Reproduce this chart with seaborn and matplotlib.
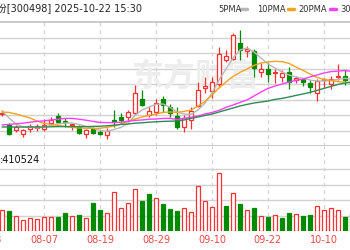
import numpy as np
import pandas as pd
import matplotlib
matplotlib.use("Agg")
import matplotlib.pyplot as plt
import seaborn as sns

# ---------------- data ----------------
dates = ["07-30", "07-31", "08-01", "08-04", "08-05", "08-06", "08-07", "08-08", "08-11", "08-12",
         "08-13", "08-14", "08-15", "08-18", "08-19", "08-20", "08-21", "08-22", "08-25", "08-26",
         "08-27", "08-28", "08-29", "09-01", "09-02", "09-03", "09-04", "09-05", "09-08", "09-09",
         "09-10", "09-11", "09-12", "09-15", "09-16", "09-17", "09-18", "09-19", "09-22", "09-23",
         "09-24", "09-25", "09-26", "09-29", "09-30", "10-09", "10-10", "10-13", "10-14", "10-15",
         "10-16"]
opens = [19.32, 18.75, 18.50, 18.30, 18.55, 18.58, 18.55, 18.85, 19.20, 18.95,
         18.73, 18.65, 18.30, 18.55, 18.40, 18.25, 19.00, 19.15, 19.15, 19.35,
         20.05, 19.25, 19.40, 20.05, 19.65, 19.20, 18.65, 19.00, 19.70, 20.60,
         20.43, 20.80, 22.00, 22.05, 22.85, 22.45, 22.45, 21.40, 21.55, 21.33,
         21.15, 21.40, 20.98, 21.05, 20.85, 20.35, 20.98, 20.80, 21.15, 21.20,
         21.15]
highs = [19.50, 18.85, 18.75, 18.55, 18.80, 18.80, 19.05, 19.15, 19.35, 19.10,
         18.80, 18.75, 18.55, 18.65, 18.50, 18.60, 19.50, 19.35, 19.50, 20.75,
         20.50, 19.70, 20.05, 20.20, 19.80, 19.65, 19.25, 19.65, 20.90, 21.15,
         21.15, 22.65, 22.50, 23.35, 23.50, 22.70, 22.55, 21.85, 21.85, 21.55,
         21.50, 21.65, 21.20, 21.10, 21.00, 21.05, 21.10, 21.20, 21.80, 21.50,
         21.25]
lows = [19.20, 18.25, 18.40, 18.15, 18.40, 18.45, 18.45, 18.70, 18.85, 18.65,
        18.50, 18.30, 18.10, 18.30, 18.25, 18.05, 18.65, 18.80, 18.90, 19.25,
        19.70, 19.15, 19.25, 19.40, 19.15, 18.55, 18.40, 18.55, 19.65, 20.35,
        20.10, 20.70, 21.90, 22.00, 22.00, 22.15, 21.15, 21.15, 20.90, 20.85,
        20.90, 20.55, 20.85, 20.70, 20.35, 19.95, 20.60, 20.55, 21.00, 20.75,
        20.70]
closes = [19.34, 18.30, 18.65, 18.50, 18.70, 18.70, 18.75, 19.00, 18.90, 18.88,
          18.78, 18.35, 18.50, 18.35, 18.30, 18.45, 18.93, 19.00, 19.40, 20.35,
          19.75, 19.45, 19.85, 19.75, 19.35, 18.65, 19.10, 19.45, 20.50, 20.68,
          20.88, 22.30, 22.20, 23.25, 22.50, 22.53, 21.60, 21.55, 21.30, 21.38,
          21.35, 20.90, 21.10, 20.88, 20.65, 20.95, 21.03, 21.03, 21.20, 20.98,
          20.75]
ma5 = [19.45, 19.10, 18.80, 18.65, 18.65, 18.60, 18.65, 18.73, 18.80, 18.85,
       18.85, 18.78, 18.68, 18.58, 18.48, 18.43, 18.53, 18.63, 18.83, 19.23,
       19.50, 19.65, 19.78, 19.80, 19.63, 19.40, 19.30, 19.28, 19.50, 19.85,
       20.35, 21.00, 21.55, 22.10, 22.50, 22.60, 22.40, 22.10, 21.80, 21.60,
       21.40, 21.25, 21.15, 21.08, 21.00, 20.95, 20.95, 20.98, 21.03, 21.08,
       21.05]
ma10 = [19.40, 19.38, 19.30, 19.20, 19.10, 18.95, 18.83, 18.78, 18.73, 18.68,
        18.63, 18.60, 18.59, 18.58, 18.59, 18.63, 18.70, 18.80, 18.93, 19.05,
        19.15, 19.23, 19.30, 19.38, 19.40, 19.38, 19.43, 19.50, 19.70, 19.92,
        20.25, 20.60, 20.90, 21.18, 21.38, 21.55, 21.73, 21.85, 21.90, 21.93,
        21.92, 21.83, 21.65, 21.48, 21.30, 21.13, 21.03, 20.97, 20.92, 20.89,
        20.86]
ma20 = [18.75, 18.78, 18.81, 18.84, 18.89, 18.93, 18.96, 19.00, 19.04, 19.08,
        19.08, 19.04, 18.99, 18.93, 18.88, 18.87, 18.87, 18.89, 18.94, 18.98,
        19.00, 19.04, 19.05, 19.08, 19.08, 19.03, 19.08, 19.14, 19.20, 19.30,
        19.38, 19.48, 19.63, 19.75, 19.88, 20.00, 20.20, 20.40, 20.58, 20.70,
        20.80, 20.90, 20.98, 21.05, 21.15, 21.25, 21.35, 21.42, 21.45, 21.47,
        21.43]
ma30 = [18.65, 18.65, 18.65, 18.65, 18.65, 18.65, 18.65, 18.66, 18.67, 18.67,
        18.67, 18.67, 18.67, 18.68, 18.69, 18.71, 18.74, 18.78, 18.80, 18.84,
        18.86, 18.89, 18.91, 18.93, 18.94, 18.95, 19.00, 19.08, 19.15, 19.23,
        19.30, 19.40, 19.50, 19.60, 19.70, 19.78, 19.85, 19.90, 19.95, 20.03,
        20.08, 20.15, 20.23, 20.30, 20.38, 20.48, 20.58, 20.68, 20.78, 20.85,
        20.90]
volumes = [420000, 406000, 300000, 220000, 254000, 240000, 274000, 274000, 286000, 354000,
           300000, 314000, 254000, 566000, 420000, 366000, 786000, 454000, 566000, 834000,
           606000, 734000, 666000, 534000, 440000, 400000, 466000, 374000, 906000, 600000,
           486000, 1154000, 506000, 754000, 546000, 414000, 454000, 306000, 274000, 326000,
           254000, 360000, 346000, 306000, 326000, 506000, 414000, 454000, 414000, 274000,
           354000]
vol_up = [1, 0, 1, 1, 1, 1, 1, 1, 0, 0,
          1, 0, 1, 0, 0, 1, 1, 1, 1, 1,
          0, 0, 1, 0, 0, 0, 1, 1, 1, 1,
          1, 1, 0, 1, 0, 1, 0, 1, 0, 1,
          0, 0, 1, 0, 0, 1, 1, 1, 1, 0,
          0]
tick_labels = ["08-07", "08-19", "08-29", "09-10", "09-22", "10-10"]
clipped_label = "07-28"   # two trading days before the first visible day
title_text = "份[300498] 2025-10-22 15:30"
volume_text = ":410524"
ma_names = ["5PMA", "10PMA", "20PMA", "30PMA"]
watermark = "东方财富"

# ---------------- style ----------------
sns.set_theme(style="white")
plt.rcParams['font.family'] = ['DejaVu Sans', 'Noto Sans CJK SC']

RED = "#ff3030"
GREEN = "#008a00"
GRID = "#d2d2d2"
ma_colors = ["#b8b8b8", "#f5a31e", "#ff3cff", "#2e8b57"]

df = pd.DataFrame({"i": np.arange(len(dates)), "date": dates, "open": opens, "high": highs,
                   "low": lows, "close": closes, "ma5": ma5, "ma10": ma10, "ma20": ma20,
                   "ma30": ma30, "vol": volumes, "up": vol_up})

W, H = 350, 250
fig = plt.figure(figsize=(3.5, 2.5), dpi=100)
fig.patch.set_facecolor("white")


def rect(top, bottom):
    return [0, 1 - bottom / H, 1, (bottom - top) / H]


ax = fig.add_axes(rect(22, 146))
axv = fig.add_axes(rect(146, 231))

xlim = (-2 / 7, 348 / 7)
for a in (ax, axv):
    a.set_xlim(*xlim)
    a.set_facecolor("white")
    a.tick_params(left=False, bottom=False, labelleft=False, labelbottom=False)
    for s in a.spines.values():
        s.set_visible(False)

# price panel
plo, phi = 17.70, 23.90
ax.set_ylim(plo, phi)
for yv in np.linspace(plo, phi, 9)[1:-1]:
    ax.axhline(yv, color=GRID, lw=1.0, zorder=0)
ax.spines["top"].set_visible(True)
ax.spines["top"].set_color("#c4c4c4")
ax.spines["bottom"].set_visible(True)
ax.spines["bottom"].set_color("#c4c4c4")

tick_pos = [dates.index(t) for t in tick_labels]
for p in tick_pos:
    ax.axvline(p, color=GRID, lw=0.9, ls=(0, (3, 3)), zorder=0)
    axv.axvline(p, color=GRID, lw=0.9, ls=(0, (3, 3)), zorder=0)

ax.text(0.557, 0.55, watermark, transform=ax.transAxes, ha="center", va="center",
        fontsize=23, fontweight="bold", color="#ededed", family=["Noto Sans CJK SC"], zorder=0)

# candles
bw = 0.7
for _, r in df.iterrows():
    up = r["close"] >= r["open"]
    col = RED if up else GREEN
    ax.vlines(r["i"], r["low"], r["high"], color=col, lw=0.9, zorder=2)
    lo = min(r["open"], r["close"])
    hgt = max(abs(r["close"] - r["open"]), 0.005)
    ax.bar(r["i"], hgt, bottom=lo, width=bw, facecolor="white" if up else col,
           edgecolor=col, linewidth=0.9, zorder=3)

# moving averages
for name, c in zip(["ma5", "ma10", "ma20", "ma30"], ma_colors):
    sns.lineplot(data=df, x="i", y=name, ax=ax, color=c, lw=1.0, sort=False,
                 legend=False, zorder=4)
ax.set_xlabel("")
ax.set_ylabel("")
ax.set_xlim(*xlim)
ax.set_ylim(plo, phi)

# volume panel
axv.set_ylim(0, 1700000)
for yv in [310000, 620000, 930000, 1240000]:
    axv.axhline(yv, color=GRID, lw=1.0, zorder=0)
for _, r in df.iterrows():
    up = r["up"] == 1
    axv.bar(r["i"], r["vol"], width=0.64, facecolor="white" if up else GREEN,
            edgecolor=RED if up else GREEN, linewidth=0.9, zorder=3)
axv.set_xlim(*xlim)

lab_y = -9 / 85
for t, p in zip(tick_labels, tick_pos):
    axv.text(p, lab_y, t, transform=axv.get_xaxis_transform(), ha="center", va="center",
             fontsize=7, color="#f04848", clip_on=False)
axv.text(-2, lab_y, clipped_label, transform=axv.get_xaxis_transform(), ha="center",
         va="center", fontsize=7, color="#f04848", clip_on=False)

axv.text(-0.3, 1 - 14 / 85, volume_text, transform=axv.get_xaxis_transform(), ha="left",
         va="center", fontsize=7, color="#111111")

# header
fig.text(-3 / W, 1 - 9 / H, title_text, ha="left", va="center", fontsize=7, color="#222222")
leg_x = [218, 257, 298, 340]
dash_x = [(240, 247), (288, 294), (330, 336), (372, 378)]
for name, x0, (d0, d1), c in zip(ma_names, leg_x, dash_x, ma_colors):
    fig.text(x0 / W, 1 - 9 / H, name, ha="left", va="center", fontsize=6, color="#333333")
    fig.add_artist(plt.Line2D([d0 / W, d1 / W], [1 - 9 / H, 1 - 9 / H], color=c, lw=2.5,
                              transform=fig.transFigure))

fig.savefig("out.png", dpi=100, facecolor="white")
